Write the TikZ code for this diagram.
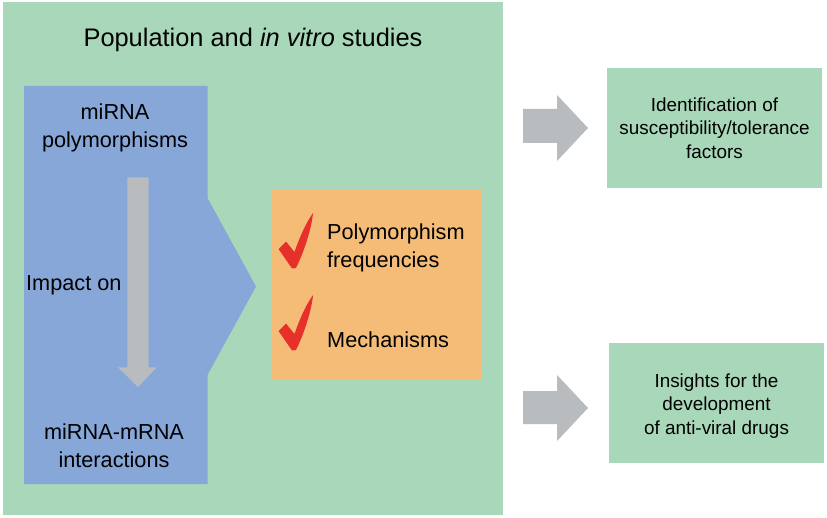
\documentclass[tikz,border=0pt]{standalone}
\usepackage{fontspec}
\setmainfont{Liberation Sans}
\definecolor{pgreen}{HTML}{A8D8B9}
\definecolor{pblue}{HTML}{87A7D8}
\definecolor{porange}{HTML}{F5BC78}
\definecolor{pgray}{HTML}{B8BCBF}
\definecolor{pred}{HTML}{E8302A}
\begin{document}
\begin{tikzpicture}[x=1pt,y=-1pt,
  body/.style={font=\fontsize{21.7}{28}\selectfont, align=center, inner sep=0pt, text=black},
  side/.style={font=\fontsize{18.9}{23.7}\selectfont, align=center, inner sep=0pt, text=black},
  blockarrow/.style={fill=pgray, draw=none},
  check/.style={fill=pred, draw=none}]
\useasboundingbox (0,0) rectangle (827,518);
\fill[white] (0,0) rectangle (827,518);
% main panel
\fill[pgreen] (3,2) rectangle (503,515);
% blue pentagon
\fill[pblue] (24,86) -- (207.5,86) -- (207.5,198) -- (256,286.5) -- (207.5,375) -- (207.5,484) -- (24,484) -- cycle;
% down arrow
\fill[blockarrow] (127.3,177.3) -- (148.7,177.3) -- (148.7,367.3) -- (156.7,367.3) -- (138,387) -- (118,367.3) -- (127.3,367.3) -- cycle;
% orange box
\fill[porange] (271.5,190) rectangle (482,380);
% right boxes
\fill[pgreen] (607,68) rectangle (822,188);
\fill[pgreen] (609,343) rectangle (824,463);
% right arrows
\fill[blockarrow] (523,109) -- (557,109) -- (557,95) -- (588,128) -- (557,161) -- (557,143) -- (523,143) -- cycle;
\fill[blockarrow] (523,391) -- (557,391) -- (557,375) -- (588,408) -- (557,441) -- (557,424) -- (523,424) -- cycle;
% check marks
\foreach \dy in {0,82}{
  \fill[check, yshift=-\dy] (278.5,249) -- (286,241.5) -- (294.5,252) .. controls (300,236) and (306,223) .. (313,213)
     .. controls (312,226) and (305,250) .. (296,268) -- (292,268.5) -- cycle;
}
% texts
\node[font=\fontsize{25.4}{28}\selectfont, inner sep=0pt, anchor=base] (title) at (253,47) {Population and \textit{in vitro} studies};
\node[body] (poly) at (115,128) {miRNA\\polymorphisms};
\node[body, anchor=west] (impact) at (26,285) {Impact on};
\node[body] (inter) at (114,446) {miRNA-mRNA\\interactions};
\node[body, anchor=west, align=left] (freq) at (327,248) {Polymorphism\\frequencies};
\node[body, anchor=west] (mech) at (327,340) {Mechanisms};
\node[side] (ident) at (714.5,128) {Identification of\\susceptibility/tolerance\\factors};
\node[side] (insight) at (716.5,406) {Insights for the\\development\\of anti-viral drugs};
\end{tikzpicture}
\end{document}
